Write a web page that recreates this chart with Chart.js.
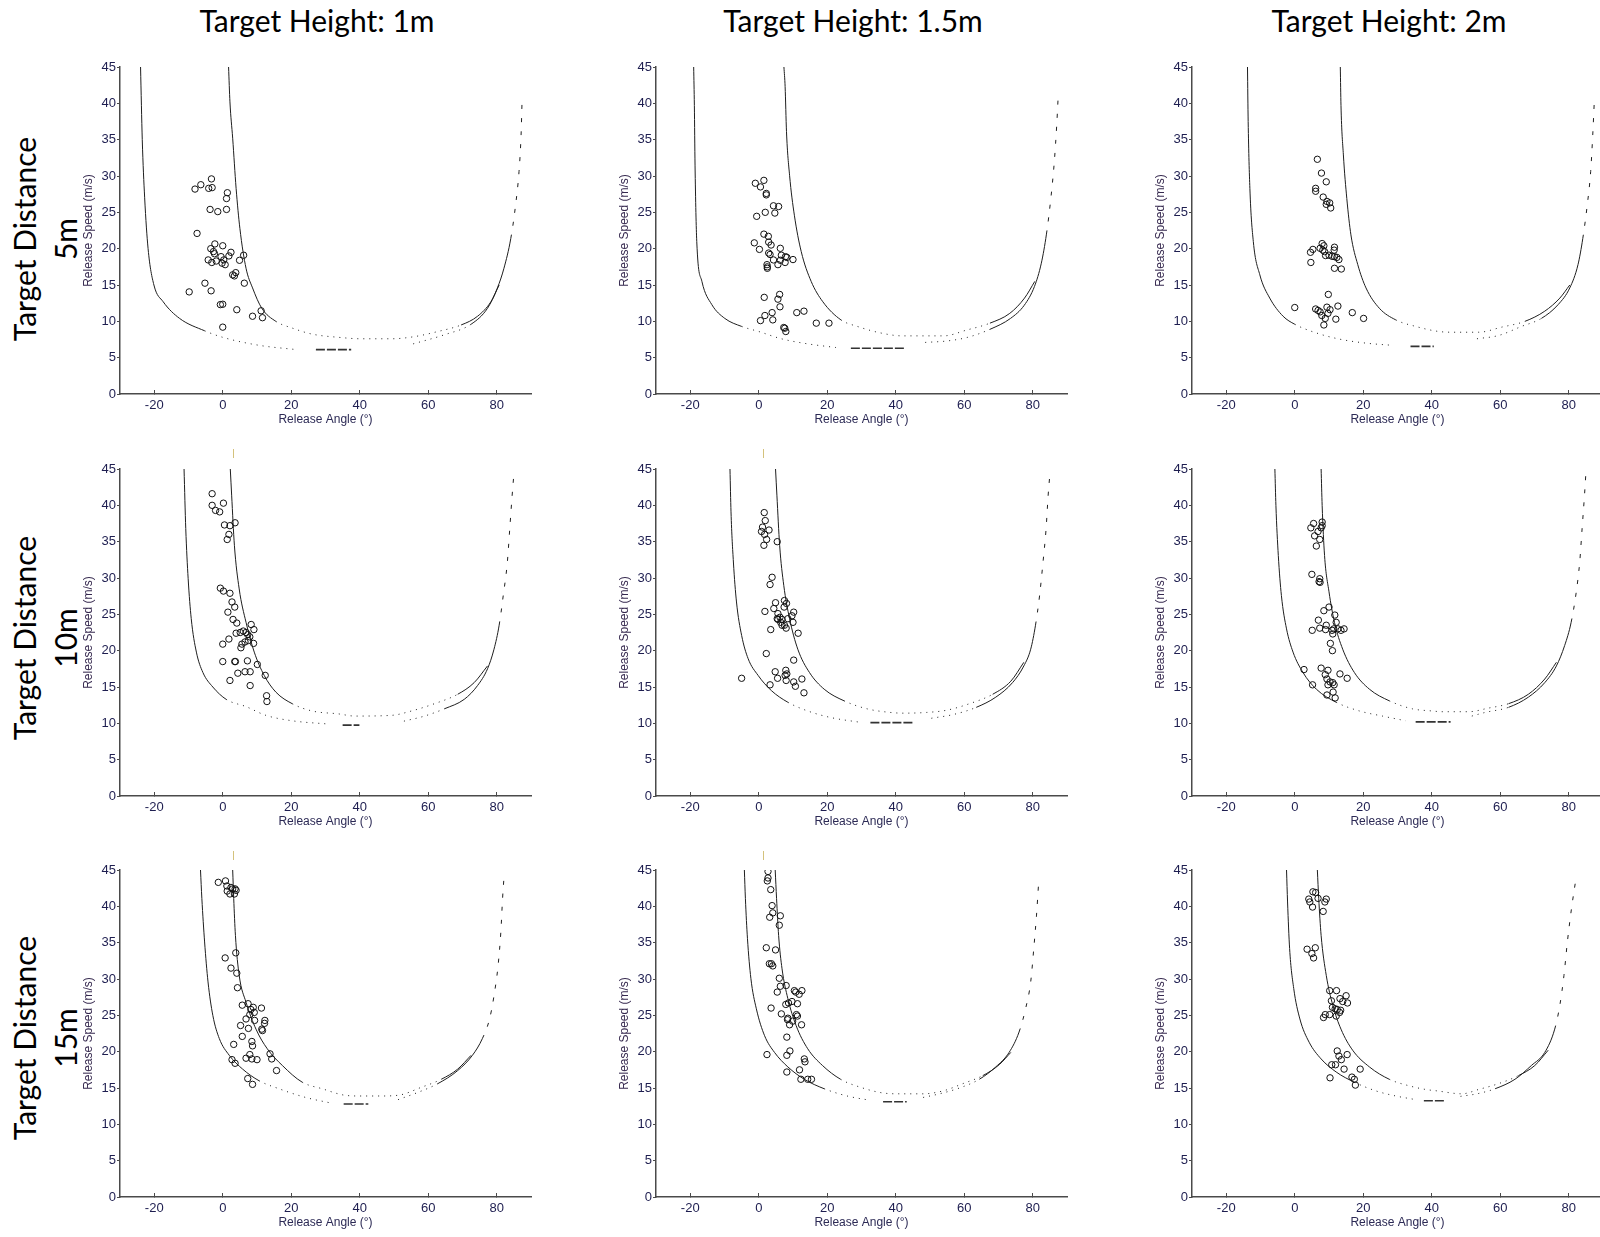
<!DOCTYPE html>
<html>
<head>
<meta charset="utf-8">
<script src="https://cdn.jsdelivr.net/npm/chart.js@4.4.1/dist/chart.umd.min.js"></script>
<style>
  html, body { margin: 0; padding: 0; background: #fff; }
  body { position: relative; width: 1600px; height: 1237px; overflow: hidden; }
  .panel { position: absolute; }
  .colTitle { position: absolute; font-family: Lato, "Open Sans", sans-serif; font-size: 30px; line-height: 30px;
              color: #000; white-space: nowrap; transform: translate(-50%, -50%); }
  .rowLabel { position: absolute; font-family: Lato, "Open Sans", sans-serif; font-size: 30px; line-height: 41px;
              color: #000; white-space: nowrap; text-align: center; transform: translate(-50%, -50%) rotate(-90deg); }
  .mark { position: absolute; width: 1px; height: 9px; background: #d4c27c; }
</style>
</head>
<body>

<div class="colTitle" style="left:317px;top:20px">Target Height: 1m</div>
<div class="colTitle" style="left:853px;top:20px">Target Height: 1.5m</div>
<div class="colTitle" style="left:1389px;top:20px">Target Height: 2m</div>

<div class="rowLabel" style="left:44.5px;top:239px">Target Distance<br>5m</div>
<div class="rowLabel" style="left:44.5px;top:638px">Target Distance<br>10m</div>
<div class="rowLabel" style="left:44.5px;top:1038px">Target Distance<br>15m</div>

<div class="mark" style="left:233px;top:449px"></div>
<div class="mark" style="left:763px;top:449px"></div>
<div class="mark" style="left:233px;top:851px"></div>
<div class="mark" style="left:763px;top:851px"></div>

<script>
// axes
const angleMin = -30, angleMax = 90;
const speedMin = 0, speedMax = 45, speedStep = 5;
const angleTicks = [-20, 0, 20, 40, 60, 80];

// ---- Target distance 5 m ----
// height 1 m
const d5h1Shots = [[-3.3,29.6],[-6.4,28.8],[-8.1,28.2],[-4.1,28.3],[-3.1,28.4],[1.35,27.7],[1.1,26.9],[-3.7,25.4],[-1.45,25.1],[1.1,25.4],[-7.5,22.1],[-2.3,20.65],[0,20.4],[-3.5,20.0],[-2.7,19.6],[-2.4,19.3],[2.4,19.5],[1.8,19.0],[6.1,19.1],[-0.5,18.9],[4.9,18.4],[-4.25,18.45],[-3.2,18.1],[-1.9,18.3],[0.3,18.45],[0.7,17.8],[-0.2,18.0],[3.8,16.7],[2.9,16.4],[3.4,16.25],[-5.2,15.25],[6.3,15.25],[-9.8,14.05],[-3.4,14.2],[-0.7,12.3],[0,12.35],[4.1,11.6],[11.2,11.45],[8.7,10.7],[11.6,10.5],[0,9.2]];
const d5h1Outer = [[-24,45],[-23.5,35],[-22.8,27],[-21.8,20],[-20.1,15],[-17.4,12.7],[-12.6,10.4],[-5.3,8.7],[0,7.8],[10.6,6.7],[21.7,6.1]];
const d5h1OuterR = [[55.6,6.9],[64.7,8.15],[72.5,9.6],[77.3,11.8],[80.2,14.6],[82.1,17.3],[84.1,21.4],[85.5,26],[86.5,30.6],[87.1,35.6],[87.4,40.5]];
const d5h1Inner = [[1.7,45],[2.1,40.2],[2.9,35.2],[3.9,28.3],[5.0,22.8],[6.8,17.3],[8.7,14.6],[11.4,11.8],[15.5,10],[20.3,9.07],[26.1,8.24],[33.8,7.8],[40.4,7.6],[49.3,7.6],[56,7.9],[62.8,8.6],[69.6,9.5],[74.4,10.7],[78.3,12.7],[80.7,15]];
const d5h1Min = [[27.2,6.1],[37.5,6.1]];
// height 1.5 m
const d5h15Shots = [[-1.0,29.0],[0.5,28.5],[1.5,29.4],[2.2,27.6],[2.2,27.4],[4.3,25.9],[5.8,25.8],[1.9,25.0],[4.7,24.9],[-0.6,24.45],[1.5,22.0],[2.8,21.7],[2.9,20.9],[3.6,20.5],[-1.3,20.8],[0.2,19.9],[6.3,20.05],[2.9,19.4],[3.3,19.2],[6.6,19.1],[7.8,18.9],[8.2,18.8],[10,18.5],[4.3,18.45],[6.3,18.4],[7.7,18.1],[5.6,17.8],[2.4,17.8],[2.5,17.5],[2.5,17.3],[6.1,13.7],[1.6,13.3],[5.6,13.05],[6.2,12.0],[11.1,11.2],[13.2,11.4],[3.9,11.2],[1.8,10.8],[0.5,10.1],[4.1,10.2],[16.8,9.75],[20.5,9.75],[7.3,9.15],[7.6,9.05],[7.9,8.6]];
const d5h15Outer = [[-19,45],[-18.8,39.7],[-18.6,31.5],[-18.1,21],[-16.6,15.5],[-13.7,12.3],[-9.9,10.4],[-5,9.3],[0,8.6],[6.6,7.6],[14.3,6.9],[22.5,6.4]];
const d5h15OuterR = [[48.6,7.1],[55,7.3],[61,7.8],[67.5,8.9],[73.5,10.4],[77.5,12.2],[80.5,14.8],[82.5,18],[84,22],[85.3,27],[86.3,32],[87,37],[87.4,40.7]];
const d5h15Inner = [[7.35,45],[7.7,42.3],[8.1,36.1],[9.0,30.1],[10.4,24.6],[12.4,19.6],[15.3,15.5],[18.7,12.7],[24.0,10.2],[28.8,9.3],[35.6,8.4],[41.9,8.0],[54,8.0],[60.7,8.8],[67.5,9.75],[73.3,11.1],[77.6,13.2],[80.6,15.5]];
const d5h15Min = [[26.9,6.3],[42.9,6.3]];
// height 2 m
const d5h2Shots = [[6.6,32.3],[7.8,30.4],[9.2,29.2],[6.1,28.3],[6.1,27.9],[8.3,27.1],[9.4,26.5],[9.2,26.1],[10.2,26.3],[10.5,25.6],[8.0,20.7],[8.5,20.4],[5.3,19.9],[4.6,19.5],[4.7,18.1],[11.6,20.2],[7.4,20.05],[8.2,19.8],[8.7,19.6],[9.0,19.05],[10.0,19.1],[10.9,18.95],[11.6,18.9],[12.3,18.8],[11.5,19.8],[12.9,18.5],[11.6,17.3],[13.6,17.2],[9.8,13.7],[0,11.9],[12.6,12.1],[9.4,11.95],[6.1,11.7],[6.8,11.5],[7.4,11.3],[10.3,11.6],[9.7,11.1],[16.8,11.2],[8.9,10.4],[12.0,10.3],[20.1,10.4],[8.5,9.5],[7.9,10.8]];
const d5h2Outer = [[-13.8,45],[-13.6,37.5],[-13.1,28.3],[-12.1,21],[-10.2,16.4],[-7.3,13.2],[-3.4,10.7],[0,9.6],[6.3,8.4],[13.1,7.55],[20.8,7.0],[28.5,6.7]];
const d5h2OuterR = [[53.2,7.6],[59.5,8.05],[66.2,9.3],[72,10.4],[76.9,12.3],[80.3,14.6],[82.7,17.8],[84.1,21.4],[85.4,26],[86.4,30.6],[87,35.6],[87.5,40.7]];
const d5h2Inner = [[13.3,45],[13.5,39.7],[14.2,32.9],[15.2,26.9],[16.4,21.9],[18.4,17.8],[20.8,14.6],[24.7,11.8],[29.5,10.2],[35.3,9.3],[42.1,8.6],[46.9,8.5],[53.7,8.5],[60.4,9.2],[67.2,10],[73,11.4],[77.4,13.2],[80.3,15]];
const d5h2Min = [[33.8,6.55],[40.6,6.55]];

// ---- Target distance 10 m ----
const d10h1Shots = [[-3.1,41.6],[-3.1,40.0],[0.2,40.3],[-2.1,39.3],[-0.9,39.1],[0.5,37.3],[2.1,37.2],[3.6,37.6],[1.8,36.0],[1.3,35.3],[-0.7,28.6],[0.2,28.2],[2.1,27.9],[2.7,26.7],[3.5,26.0],[1.5,25.3],[3.0,24.3],[4.1,23.8],[8.3,23.6],[9.1,22.9],[3.9,22.4],[5.1,22.5],[6.0,22.7],[6.8,22.5],[7.3,22.2],[7.9,21.9],[1.8,21.6],[7.5,21.4],[6.5,21.2],[5.6,20.9],[5.3,20.4],[9.0,21.0],[0,20.9],[0,18.5],[3.5,18.5],[3.7,18.5],[7.2,18.6],[10.1,18.1],[4.4,16.9],[6.5,17.1],[8.0,17.1],[12.4,16.6],[2.1,15.9],[8.0,15.2],[12.8,13.8],[12.9,13.0]];
const d10h1Outer = [[-11.3,45],[-10.8,36.8],[-10.1,29.9],[-9.2,24.4],[-7.7,19.8],[-5.8,17.0],[-2.9,15.0],[1.0,13.3],[6.8,12.3],[12.6,11.1],[20.3,10.35],[30.9,9.9]];
const d10h1OuterR = [[52.9,10.3],[58.9,11.0],[64.7,12.0],[70.5,13.3],[74.4,15.2],[77.3,17.5],[79.2,20.2],[80.7,23.5],[81.9,27.6],[83.1,32.2],[83.8,36.8],[84.5,41.4],[85.0,44.3]];
const d10h1Inner = [[2.2,45],[2.6,41.4],[3.4,34.5],[4.8,28.5],[6.8,23.9],[9.2,19.8],[12.1,16.6],[15.5,14.3],[20.3,12.7],[26.1,11.7],[33.8,11.3],[38.6,11.0],[49.3,11.1],[55.1,11.7],[61.8,12.7],[68.6,14.0],[73.4,15.6],[77.3,17.9]];
const d10h1Min = [[35,9.75],[39.9,9.75]];

const d10h15Shots = [[1.6,39.0],[1.9,37.9],[1.1,37.0],[0.8,36.4],[3.0,36.6],[1.7,36.0],[2.3,35.3],[5.4,35.0],[1.5,34.5],[3.9,30.1],[3.3,29.1],[7.5,26.9],[4.9,26.6],[8.1,26.5],[4.4,25.8],[1.8,25.4],[10.2,25.3],[7.4,26.0],[5.6,25.1],[6.2,24.6],[6.8,24.3],[6.4,23.9],[5.6,24.3],[8.5,24.4],[7.5,23.5],[6.8,23.5],[8.0,23.1],[9.7,24.8],[10.0,23.9],[5.4,24.4],[3.5,22.9],[11.5,22.4],[2.2,19.6],[10.2,18.7],[4.8,17.1],[7.9,17.3],[8.2,16.8],[7.7,16.6],[-5.0,16.2],[5.5,16.2],[8.0,15.9],[10.2,15.7],[12.6,16.1],[3.3,15.3],[10.7,15.1],[13.2,14.2]];
const d10h15Outer = [[-8.4,45],[-8.1,39.1],[-7.4,32.2],[-6.5,26.7],[-5.0,22.1],[-3.1,18.9],[-0.2,16.6],[3.7,14.5],[8.5,12.9],[14.3,11.7],[21,10.8],[30.2,10.1]];
const d10h15OuterR = [[50.4,10.7],[56.7,11.2],[63.5,12.2],[69.2,13.6],[74.1,15.6],[77.4,17.9],[79.4,20.2],[80.8,23.5],[82,27.6],[83,32.2],[83.9,36.8],[84.5,41.4],[85,44.3]];
const d10h15Inner = [[4.9,45],[5.3,41.4],[6.1,34.5],[7.3,29],[9.0,24.4],[11.4,20.2],[14.8,17.0],[19.1,14.7],[24.9,13.1],[31.6,12.0],[38.4,11.5],[42.2,11.4],[49.0,11.5],[54.8,11.8],[61.5,12.7],[68.3,14.0],[73.6,15.8],[77.4,18.4]];
const d10h15Min = [[32.6,10.1],[45.1,10.1]];

const d10h2Shots = [[5.5,37.5],[8.0,37.7],[8.0,37.2],[7.7,36.9],[4.7,36.9],[6.8,36.4],[5.8,35.8],[7.3,35.3],[6.3,34.4],[5.0,30.5],[7.3,29.9],[7.1,29.5],[7.4,29.4],[10.0,26.0],[8.5,25.5],[11.7,24.9],[12.1,23.9],[6.9,24.2],[7.3,23.1],[9.2,23.5],[9.0,22.9],[10.9,22.8],[11.1,22.3],[11.4,23.0],[5.1,22.8],[12.6,23.0],[13.5,22.8],[14.4,23.0],[10.4,21.0],[11.0,20.0],[2.7,17.4],[7.7,17.6],[9.7,17.3],[8.9,16.7],[13.2,16.8],[15.3,16.2],[9.4,16.1],[10.3,15.7],[11.1,15.6],[11.5,15.3],[5.2,15.3],[9.7,15.3],[9.4,13.9],[11.2,14.3],[11.8,13.5]];
const d10h2Outer = [[-5.8,45],[-5.5,40.0],[-4.8,33.1],[-3.9,27.6],[-2.4,23.0],[-0.5,19.8],[2.4,17.0],[6.3,14.7],[12.1,12.9],[18.9,11.7],[25.6,11.0],[32.4,10.35]];
const d10h2OuterR = [[51.7,11.0],[55.6,11.5],[62.4,12.2],[68.2,13.6],[73,15.6],[76.4,17.9],[78.8,20.7],[80.7,23.9],[82.2,28.1],[83.2,32.2],[83.9,36.8],[84.6,41.4],[85,44.4]];
const d10h2Inner = [[7.7,45],[8.0,40.0],[8.7,33.1],[10.0,28.1],[11.6,23.9],[14.0,20.2],[17.4,17.0],[21.8,14.7],[27.6,13.1],[34.3,12.0],[40.1,11.7],[43.0,11.6],[50.8,11.6],[56.6,12.1],[62.4,12.7],[68.2,14.0],[73,16.1],[76.4,18.4]];
const d10h2Min = [[35.3,10.2],[45.5,10.2]];

// ---- Target distance 15 m ----
const d15h1Shots = [[-1.3,43.3],[0.8,43.5],[1.2,42.8],[2.4,42.6],[2.9,42.4],[3.6,42.4],[3.9,42.2],[1.3,42.1],[2.1,41.7],[3.4,41.7],[3.8,33.6],[0.7,32.9],[2.4,31.5],[4.1,30.8],[4.3,28.8],[5.7,26.4],[7.4,26.6],[11.3,26.0],[8.2,25.8],[8.9,26.1],[7.9,25.1],[9.2,25.4],[6.8,24.5],[9.3,24.3],[12.3,24.3],[12.2,23.9],[5.2,23.6],[7.5,23.2],[11.4,23.1],[11.6,22.9],[5.7,22.1],[3.2,21.0],[8.5,21.4],[8.7,20.8],[7.9,19.6],[13.8,19.7],[6.8,19.1],[8.5,19.0],[10.0,18.9],[14.3,19.0],[2.7,18.9],[3.6,18.4],[15.7,17.4],[7.3,16.3],[8.7,15.5]];
const d15h1Outer = [[-6.5,45],[-6.1,41.1],[-5.3,35.1],[-4.3,29.6],[-2.9,25.0],[-1.0,21.8],[1.9,19.5],[5.8,17.6],[10.6,16.0],[16.4,14.9],[24.2,13.7],[31.9,12.9]];
const d15h1OuterR = [[51.2,13.4],[57.0,14.4],[62.8,15.6],[68.6,17.4],[72.9,19.5],[75.8,21.8],[77.9,24.5],[79.2,27.7],[80.4,31.9],[81.2,36.5],[81.7,41.1],[82.1,43.9]];
const d15h1Inner = [[2.9,45],[3.2,41.1],[3.7,36.0],[4.8,30.5],[6.8,26.8],[9.7,23.1],[13.0,20.4],[17.4,18.1],[23.2,15.8],[29.0,14.9],[35.7,14.0],[40.1,13.9],[45.9,13.9],[51.2,14.0],[58.0,15.1],[63.8,16.2],[68.6,17.6],[72.5,19.5]];
const d15h1Min = [[35.3,12.8],[42.5,12.8]];

const d15h15Shots = [[2.7,44.8],[2.7,43.9],[2.5,43.5],[3.5,42.3],[3.9,40.1],[4.1,39.1],[3.2,38.5],[6.3,38.7],[6.0,37.4],[2.2,34.3],[4.9,34.0],[3.1,32.1],[3.7,32.1],[4.1,31.8],[6.0,30.1],[6.3,29.0],[8.0,29.1],[5.4,28.2],[10.4,28.4],[10.8,28.2],[12.6,28.4],[11.8,27.9],[9.7,26.9],[8.7,26.7],[7.9,26.5],[11.3,26.6],[3.6,26.0],[6.6,25.2],[8.5,24.6],[8.4,24.4],[11.0,25.1],[11.3,24.9],[9.9,24.2],[9.0,23.7],[12.5,23.7],[8.2,22.0],[9.1,20.1],[2.4,19.6],[8.2,19.5],[13.3,19.0],[13.5,18.6],[11.9,17.5],[8.2,17.2],[12.3,16.2],[14.3,16.2],[15.4,16.2]];
const d15h15Outer = [[-4.2,45],[-3.9,41.1],[-3.3,35.6],[-2.3,30.1],[-0.7,25.9],[1.7,22.2],[4.6,19.9],[8.5,17.9],[13.3,16.2],[19.1,14.9],[25.8,13.9],[32.6,13.3]];
const d15h15OuterR = [[48,13.7],[52.8,14.2],[58.6,15.0],[64.4,16.2],[69.2,17.9],[73.1,19.9],[76,22.7],[77.9,25.9],[79.4,29.6],[80.3,34.2],[81.1,38.8],[81.8,43.9]];
const d15h15Inner = [[4.8,45],[5.2,41.1],[5.8,36.0],[6.8,31.4],[8.5,27.3],[10.9,23.6],[14.3,20.4],[18.6,18.1],[23.9,16.2],[29.7,15.1],[36.5,14.3],[41.3,14.2],[48,14.2],[53.8,14.6],[59.6,15.6],[65.4,16.7],[70.2,18.2],[73.6,19.9]];
const d15h15Min = [[36.3,13.1],[43.2,13.1]];

const d15h2Shots = [[5.3,42.0],[6.1,41.9],[4.1,41.0],[4.4,40.6],[6.8,41.1],[9.2,41.0],[8.8,40.6],[5.2,39.9],[8.3,39.3],[3.6,34.1],[6.0,34.3],[5.0,33.5],[5.5,32.9],[10.2,28.4],[12.2,28.4],[15.0,27.7],[13.2,27.3],[10.7,27.0],[14.0,26.9],[15.4,26.7],[11.0,26.1],[11.8,25.9],[12.4,25.8],[13.4,25.7],[8.9,25.1],[8.4,24.7],[10.2,25.1],[12.1,24.9],[13.1,25.4],[12.4,20.1],[12.9,19.4],[15.3,19.6],[13.6,18.9],[10.8,18.2],[11.9,18.2],[14.4,17.6],[19.1,17.6],[10.3,16.4],[16.7,16.5],[17.4,16.2],[17.7,15.4]];
const d15h2Outer = [[-2.4,45],[-2.1,40.6],[-1.5,34.2],[-0.3,28.7],[1.5,24.5],[4.2,21.3],[7.7,19.0],[12.1,17.2],[17.4,15.8],[23.7,14.6],[29.5,13.9],[35.3,13.4]];
const d15h2OuterR = [[48.4,13.85],[53.2,14.2],[58.5,14.9],[64.3,16.2],[69.1,18.1],[73,19.9],[75.9,23.1],[77.4,26.4],[78.6,30.5],[79.6,35.1],[80.8,39.7],[82.2,44.1]];
const d15h2Inner = [[6.6,45],[7.0,41.1],[7.7,36.0],[9.2,30.5],[11.1,26.4],[13.5,23.1],[16.9,20.2],[21.8,17.9],[27.6,16.2],[33.4,15.3],[38.2,14.8],[41.6,14.6],[48.8,14.2],[53.7,14.8],[59.5,15.6],[65.3,16.7],[70.1,18.1],[74,20.2]];
const d15h2Min = [[37.7,13.25],[43.8,13.25]];

const panels = [
  [d5h1Shots, d5h1Outer, d5h1OuterR, d5h1Inner, d5h1Min],
  [d5h15Shots, d5h15Outer, d5h15OuterR, d5h15Inner, d5h15Min],
  [d5h2Shots, d5h2Outer, d5h2OuterR, d5h2Inner, d5h2Min],
  [d10h1Shots, d10h1Outer, d10h1OuterR, d10h1Inner, d10h1Min],
  [d10h15Shots, d10h15Outer, d10h15OuterR, d10h15Inner, d10h15Min],
  [d10h2Shots, d10h2Outer, d10h2OuterR, d10h2Inner, d10h2Min],
  [d15h1Shots, d15h1Outer, d15h1OuterR, d15h1Inner, d15h1Min],
  [d15h15Shots, d15h15Outer, d15h15OuterR, d15h15Inner, d15h15Min],
  [d15h2Shots, d15h2Outer, d15h2OuterR, d15h2Inner, d15h2Min],
];

// layout of the plot areas on the page
const colLeft = [120, 656, 1192];
const rowTop = [67, 469, 870];
const plotW = 414, plotH = 327;
const yAxisW = 44, xAxisH = 40;
const pad = { left: 2, right: 2, top: 10, bottom: 0 };

const tickFont = { family: "'Liberation Sans', Arial, sans-serif", size: 13 };
const titleFont = { family: "'Liberation Sans', Arial, sans-serif", size: 12 };
const axisColor = '#4a4a4a';
const curveColor = '#1e1e1e';

const xy = pairs => pairs.map(p => ({ x: p[0], y: p[1] }));

// steep parts are drawn solid, flat bottoms dotted, right tails dashed
function curveDash(ctx) {
  const dx = Math.abs(ctx.p1.x - ctx.p0.x);
  const dy = Math.abs(ctx.p1.y - ctx.p0.y);
  if (dy < dx * 0.45) return [1, 5];
  if (ctx.p0.parsed.x > 60 && Math.min(ctx.p0.parsed.y, ctx.p1.parsed.y) > 21) return [4, 9];
  return undefined;
}

function curve(pairs) {
  return {
    data: xy(pairs), showLine: true, pointRadius: 0, borderColor: curveColor, borderWidth: 1,
    cubicInterpolationMode: 'monotone', segment: { borderDash: curveDash },
  };
}

panels.forEach((p, i) => {
  const [shots, outer, outerR, inner, minBand] = p;
  const col = i % 3, row = Math.floor(i / 3);

  const box = document.createElement('div');
  box.className = 'panel';
  const canvas = document.createElement('canvas');
  canvas.width = pad.left + yAxisW + plotW + pad.right;
  canvas.height = pad.top + plotH + xAxisH + pad.bottom;
  box.appendChild(canvas);
  document.body.appendChild(box);

  const chart = new Chart(canvas, {
    type: 'scatter',
    data: {
      datasets: [
        { data: xy(shots), pointStyle: 'circle', pointRadius: 3.2, borderWidth: 1,
          borderColor: '#111', backgroundColor: 'rgba(0,0,0,0)' },
        curve(outer),
        curve(outerR),
        curve(inner),
        { data: xy(minBand), showLine: true, pointRadius: 0, borderColor: '#333', borderWidth: 1.6, borderDash: [9, 2] },
      ],
    },
    options: {
      responsive: false,
      animation: false,
      devicePixelRatio: 1,
      layout: { padding: pad },
      plugins: { legend: { display: false }, tooltip: { enabled: false } },
      scales: {
        x: {
          type: 'linear', min: angleMin, max: angleMax,
          afterBuildTicks: a => { a.ticks = angleTicks.map(v => ({ value: v })); },
          afterFit: a => { a.height = xAxisH; },
          border: { display: true, color: axisColor, width: 1.5 },
          grid: { drawOnChartArea: false, drawTicks: true, tickLength: -4, color: axisColor },
          ticks: { font: tickFont, color: '#1e1e50', padding: 8, maxRotation: 0 },
          title: { display: true, text: 'Release Angle (°)', font: titleFont, color: '#2c2a55', padding: { top: 0, bottom: 7 } },
        },
        y: {
          min: speedMin, max: speedMax,
          afterFit: a => { a.width = yAxisW; },
          border: { display: true, color: axisColor, width: 1.5 },
          grid: { drawOnChartArea: false, drawTicks: true, tickLength: 3, color: axisColor },
          ticks: { stepSize: speedStep, font: tickFont, color: '#1e1e50', padding: 1 },
          title: { display: true, text: 'Release Speed (m/s)', font: titleFont, color: '#36294f', padding: { top: 5, bottom: 0 } },
        },
      },
    },
  });

  const ca = chart.chartArea;
  box.style.left = (colLeft[col] - ca.left) + 'px';
  box.style.top = (rowTop[row] - ca.top) + 'px';
});
</script>
</body>
</html>
